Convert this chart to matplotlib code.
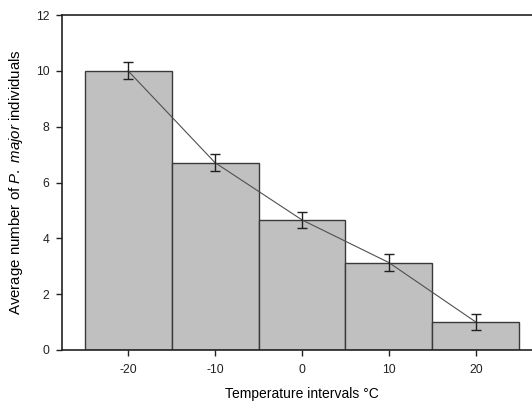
import numpy as np
import matplotlib
matplotlib.use("Agg")
import matplotlib.pyplot as plt

plt.rcParams['font.family'] = ['Liberation Sans', 'DejaVu Sans']
plt.rcParams['mathtext.fontset'] = 'custom'
plt.rcParams['mathtext.rm'] = 'Liberation Sans'
plt.rcParams['mathtext.it'] = 'Liberation Sans:italic'

temps = [-20, -10, 0, 10, 20]
means = [10.0, 6.71, 4.66, 3.13, 1.0]
errs = [0.3, 0.3, 0.3, 0.3, 0.3]
yticks = [0, 2, 4, 6, 8, 10, 12]

fig = plt.figure(figsize=(5.32, 4.08), dpi=100)
# axes run past the right edge of the figure, as in the reference
ax = fig.add_axes([62/532, 58/408, 480/532, 335/408])

ax.bar(temps, means, width=10, color="#c0c0c0", edgecolor="#3a3a3a", linewidth=1.0, zorder=2)
ax.plot(temps, means, color="#505050", linewidth=0.8, zorder=3)
ax.errorbar(temps, means, yerr=errs, fmt="none", ecolor="#202020", elinewidth=1.0,
            capsize=3.5, capthick=1.0, zorder=4)

ax.set_xlim(-27.6, 27.6)
ax.set_ylim(0, 12)
ax.set_xticks(temps)
ax.set_xticklabels([str(t) for t in temps])
ax.set_yticks(yticks)
ax.tick_params(direction="out", length=4, width=1, labelsize=8.7, colors="#222222", pad=6)
ax.tick_params(axis="y", pad=5)
for s in ax.spines.values():
    s.set_linewidth(1.2)
    s.set_color("#222222")

ax.set_xlabel("Temperature intervals °C", fontsize=10, labelpad=8)
ax.set_ylabel("Average number of $\\it{P.\\ major}$ individuals", fontsize=10.8, labelpad=8)

fig.savefig("out.png", dpi=100)
